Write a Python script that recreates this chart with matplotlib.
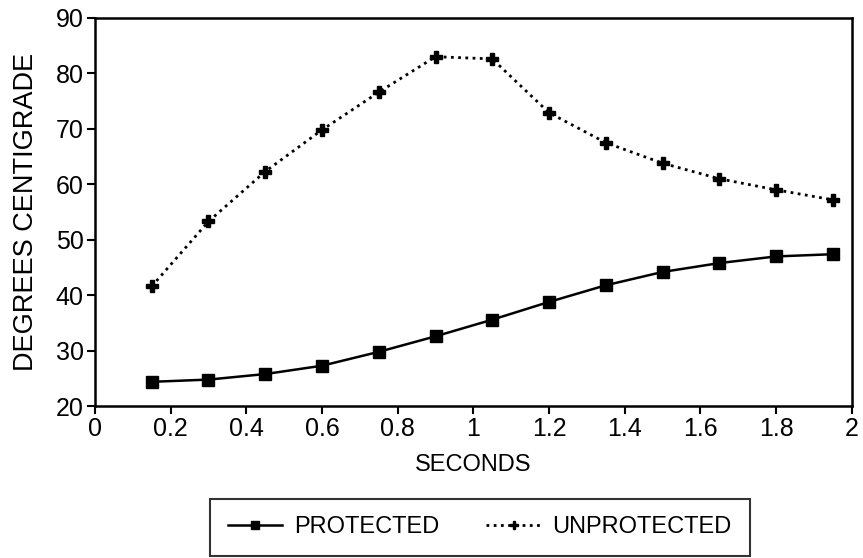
import matplotlib
matplotlib.use('Agg')
import matplotlib.pyplot as plt

plt.rcParams['font.family'] = ['Liberation Sans', 'DejaVu Sans']

seconds = [0.15, 0.3, 0.45, 0.6, 0.75, 0.9, 1.05, 1.2, 1.35, 1.5, 1.65, 1.8, 1.95]
protected = [24.4, 24.8, 25.8, 27.3, 29.8, 32.6, 35.6, 38.8, 41.8, 44.2, 45.8, 47.0, 47.4]
unprotected = [41.6, 53.3, 62.3, 69.8, 76.6, 83.0, 82.6, 72.9, 67.5, 63.8, 61.0, 59.0, 57.2]

xticks = [0, 0.2, 0.4, 0.6, 0.8, 1, 1.2, 1.4, 1.6, 1.8, 2]
xticklabels = ['0', '0.2', '0.4', '0.6', '0.8', '1', '1.2', '1.4', '1.6', '1.8', '2']
yticks = [20, 30, 40, 50, 60, 70, 80, 90]

fig = plt.figure(figsize=(8.63, 5.58), dpi=100)
ax = fig.add_axes([0.110, 0.272, 0.877, 0.696])

ax.plot(seconds, protected, color='black', lw=1.8, marker='s', ms=8,
        label='PROTECTED')
ax.plot(seconds, unprotected, color='black', lw=2, linestyle=(0, (1, 1.6)),
        marker='P', ms=8, label='UNPROTECTED')

ax.set_xlim(0, 2)
ax.set_ylim(20, 90)
ax.set_xticks(xticks)
ax.set_xticklabels(xticklabels)
ax.set_yticks(yticks)
ax.tick_params(direction='out', length=6, width=1.5, labelsize=18, pad=2)
for s in ax.spines.values():
    s.set_linewidth(1.8)

ax.set_xlabel('SECONDS', fontsize=17, labelpad=9)
ax.set_ylabel('DEGREES CENTIGRADE', fontsize=19.5, labelpad=12)

leg = fig.legend(loc='center', bbox_to_anchor=(0.556, 0.055), ncol=2,
                 fontsize=17, frameon=True, fancybox=False, edgecolor='black',
                 handlelength=2.3, handletextpad=0.5, columnspacing=2.0,
                 borderpad=0.75, markerscale=0.8)
leg.get_frame().set_linewidth(1.5)

fig.savefig('out.png', dpi=100)
